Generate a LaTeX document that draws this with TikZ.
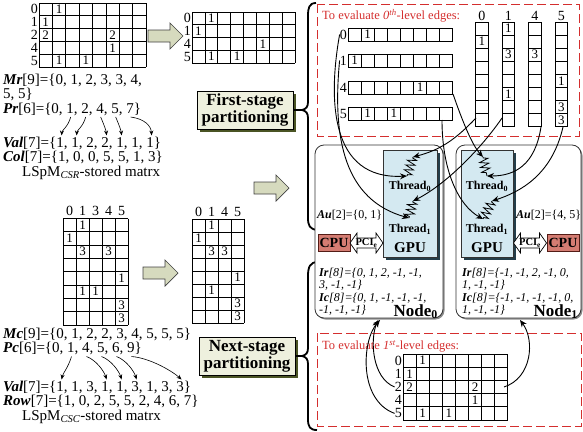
\documentclass[tikz,border=0pt]{standalone}
\usepackage{fontspec}
\setmainfont{Liberation Serif}
\usetikzlibrary{arrows.meta, decorations.pathmorphing, shadows}

\definecolor{ArrowFill}{RGB}{214,218,190}
\definecolor{StageFill}{RGB}{238,240,222}
\definecolor{StageShade}{RGB}{74,84,36}
\definecolor{GpuFill}{RGB}{212,233,241}
\definecolor{GpuShade}{RGB}{36,62,74}
\definecolor{CpuFill}{RGB}{212,124,114}
\definecolor{CpuLine}{RGB}{84,28,22}
\definecolor{EvalRed}{RGB}{212,46,46}

% x0, y0, columns, rows, cell width, cell height
\newcommand*{\cellgrid}[6]{%
  \foreach \i in {0,...,#3} \draw[gridline] (#1+\i*#5,#2) -- (#1+\i*#5,#2+#4*#6);
  \foreach \j in {0,...,#4} \draw[gridline] (#1,#2+\j*#6) -- (#1+#3*#5,#2+\j*#6);
}
\newcommand*{\fatarrow}[1]{%
  \draw[fatarr] (#1) ++(0,-6) -- ++(22,0) -- ++(0,-7) -- ++(13,13) -- ++(-13,13) -- ++(0,-7) -- ++(-22,0) -- cycle;
}
\newcommand*{\pciarrow}[1]{%
  \draw[pciarr] (#1) ++(-16.5,0) -- ++(7,-10) -- ++(0,5) -- ++(19,0) -- ++(0,-5) -- ++(7,10) -- ++(-7,10) -- ++(0,-5) -- ++(-19,0) -- ++(0,5) -- cycle;
}

\begin{document}
\begin{tikzpicture}[x=1pt, y=-1pt,
  gridline/.style={line width=0.7pt},
  cellnum/.style={inner sep=0pt, font=\fontsize{13}{13}\selectfont},
  rowlab/.style={inner sep=0pt, anchor=east, font=\fontsize{14}{14}\selectfont},
  collab/.style={inner sep=0pt, font=\fontsize{14}{14}\selectfont},
  arrtxt/.style={inner sep=0pt, anchor=base west, font=\fontsize{15}{17}\selectfont},
  fatarr/.style={draw=black!75, fill=ArrowFill, line width=0.7pt},
  stagebox/.style={draw, line width=0.7pt, fill=StageFill, align=center, inner sep=2pt,
    minimum width=96, minimum height=38, font=\bfseries\fontsize{17}{17}\selectfont,
    drop shadow={shadow xshift=3pt, shadow yshift=-3pt, fill=StageShade, opacity=1}},
  evalbox/.style={draw=EvalRed, line width=0.8pt, dash pattern=on 9pt off 4pt},
  evaltxt/.style={inner sep=0pt, anchor=base west, text=EvalRed, font=\fontsize{12.5}{13}\selectfont},
  hostbox/.style={draw=black!80, line width=0.8pt, rounded corners=9pt, fill=white,
    drop shadow={shadow xshift=1.5pt, shadow yshift=-1.5pt, fill=black!45, opacity=1}},
  gpubox/.style={draw=black!80, line width=0.7pt, fill=GpuFill,
    drop shadow={shadow xshift=3pt, shadow yshift=-3pt, fill=GpuShade, opacity=1}},
  cpubox/.style={draw=CpuLine, line width=0.8pt, fill=CpuFill, inner sep=1pt,
    minimum width=32, minimum height=17, font=\bfseries\fontsize{14}{14}\selectfont},
  pciarr/.style={draw, fill=white, line width=0.7pt},
  pcitxt/.style={inner sep=0pt, font=\bfseries\fontsize{10.5}{10.5}\selectfont},
  thrtxt/.style={inner sep=0pt, font=\bfseries\fontsize{12}{12}\selectfont},
  gputxt/.style={inner sep=0pt, font=\bfseries\fontsize{15}{15}\selectfont},
  nodetxt/.style={inner sep=0pt, anchor=base east, font=\bfseries\fontsize{17}{17}\selectfont},
  autxt/.style={inner sep=0pt, anchor=base west, font=\fontsize{12}{12}\selectfont},
  irtxt/.style={inner sep=0pt, anchor=base west, font=\itshape\fontsize{12}{12}\selectfont},
  spring/.style={line width=0.8pt, decorate,
    decoration={zigzag, segment length=5pt, amplitude=4.5pt, pre length=1pt, post length=1pt}},
  link/.style={line width=0.9pt, -{Stealth[length=7pt, width=6pt]}},
  plink/.style={line width=0.6pt, -{Stealth[length=5pt, width=4pt]}},
  curly/.style={line width=1.8pt}
]
\useasboundingbox (0,0) rectangle (583,431);

% ---- CSR matrix and its first-stage part
\cellgrid{39}{3}{8}{5}{13.4}{12.8}
\foreach \r/\lab in {0/0,1/1,2/2,3/4,4/5}
  \node[rowlab] (csrrow-\r) at (38,9.4+12.8*\r) {\lab};
\foreach \r/\c/\v in {0/1/1,1/0/1,2/0/2,2/5/2,3/5/1,4/1/1,4/3/1}
  \node[cellnum] (csr-\r-\c) at (45.7+13.4*\c,9.4+12.8*\r) {\v};
\fatarrow{148,36}
\cellgrid{192}{12}{8}{4}{12.9}{12.75}
\foreach \r/\lab in {0/0,1/1,2/4,3/5}
  \node[rowlab] (subrow-\r) at (191,18.4+12.75*\r) {\lab};
\foreach \r/\c/\v in {0/1/1,1/0/1,2/5/1,3/1/1,3/3/1}
  \node[cellnum] (sub-\r-\c) at (198.45+12.9*\c,18.4+12.75*\r) {\v};

\node[arrtxt] (mr) at (3,84) {\textbf{\textit{Mr}}[9]=\{0, 1, 2, 3, 3, 4,};
\node[arrtxt] (mrb) at (3,98.5) {5, 5\}};
\node[arrtxt] (pr) at (3,113) {\textbf{\textit{Pr}}[6]=\{0, 1, 2, 4, 5, 7\}};
\node[arrtxt] (valr) at (3,147) {\textbf{\textit{Val}}[7]=\{1, 1, 2, 2, 1, 1, 1\}};
\node[arrtxt] (colr) at (3,161.5) {\textbf{\textit{Col}}[7]=\{1, 0, 0, 5, 5, 1, 3\}};
\node[arrtxt] (csrname) at (22,176) {LSpM\textsubscript{\textit{CSR}}-stored matrx};
\foreach \n/\x in {1/70.7,2/85.7,4/100.7,5/115.7,7/130.7} \coordinate (pr\n) at (\x,117);
\foreach \n/\x in {0/61.6,1/76.6,3/106.6,4/121.6,6/151.6} \coordinate (vr\n) at (\x,135.5);
\draw[plink] (pr1) .. controls (68,127) and (62,130) .. (vr0);
\draw[plink] (pr2) .. controls (83,127) and (77,130) .. (vr1);
\draw[plink] (pr4) .. controls (104,125) and (106,130) .. (vr3);
\draw[plink] (pr5) .. controls (119,125) and (121,130) .. (vr4);
\draw[plink] (pr7) .. controls (145,119) and (151,126) .. (vr6);

\node[stagebox] (first) at (245,110) {First-stage\\partitioning};
\fatarrow{254,188}

% ---- CSC matrix and its next-stage part
\cellgrid{63}{218.5}{5}{8}{13}{13.3}
\foreach \c/\lab in {0/0,1/1,2/3,3/4,4/5}
  \node[collab] (csccol-\c) at (69.5+13*\c,211) {\lab};
\foreach \r/\c/\v in {0/1/1,1/0/1,2/1/3,2/3/3,4/4/1,5/1/1,5/2/1,6/4/3,7/4/3}
  \node[cellnum] (csc-\r-\c) at (69.5+13*\c,225.15+13.3*\r) {\v};
\fatarrow{143,273}
\cellgrid{192}{219}{4}{8}{13}{13}
\foreach \c/\lab in {0/0,1/1,2/4,3/5}
  \node[collab] (subcol-\c) at (198.5+13*\c,212) {\lab};
\foreach \r/\c/\v in {0/1/1,1/0/1,2/1/3,2/2/3,4/3/1,5/1/1,6/3/3,7/3/3}
  \node[cellnum] (subc-\r-\c) at (198.5+13*\c,225.5+13*\r) {\v};

\node[arrtxt] (mc) at (3,338) {\textbf{\textit{Mc}}[9]=\{0, 1, 2, 2, 3, 4, 5, 5, 5\}};
\node[arrtxt] (pc) at (3,352.5) {\textbf{\textit{Pc}}[6]=\{0, 1, 4, 5, 6, 9\}};
\node[arrtxt] (valc) at (3,391) {\textbf{\textit{Val}}[7]=\{1, 1, 3, 1, 1, 3, 1, 3, 3\}};
\node[arrtxt] (rowc) at (3,405.5) {\textbf{\textit{Row}}[7]=\{1, 0, 2, 5, 5, 2, 4, 6, 7\}};
\node[arrtxt] (cscname) at (22,420) {LSpM\textsubscript{\textit{CSC}}-stored matrx};
\foreach \n/\x in {1/71.5,4/86.5,5/101.5,6/116.5,9/131.5} \coordinate (pc\n) at (\x,356.5);
\foreach \n/\x in {0/61.6,3/106.6,4/121.6,5/136.6,8/181.6} \coordinate (vc\n) at (\x,379.5);
\draw[plink] (pc1) .. controls (68,368) and (63,373) .. (vc0);
\draw[plink] (pc4) .. controls (96,360) and (104,371) .. (vc3);
\draw[plink] (pc5) .. controls (111,360) and (119,371) .. (vc4);
\draw[plink] (pc6) .. controls (126,360) and (134,371) .. (vc5);
\draw[plink] (pc9) .. controls (150,358) and (172,371) .. (vc8);

\node[stagebox] (next) at (247,356) {Next-stage\\partitioning};

% ---- braces
\coordinate (firsttip) at (302,110);
\coordinate (nexttip) at (302,356);
\draw[curly] (316,3) .. controls (309,3) and (308,8) .. (308,16) -- (308,102)
  .. controls (308,107) and (306,109) .. (firsttip) .. controls (306,111) and (308,113) .. (308,118)
  -- (308,218) .. controls (308,226) and (310,229) .. (317,230);
\draw[curly] (318,262) .. controls (310,262) and (308,267) .. (308,276) -- (308,348)
  .. controls (308,353) and (306,355) .. (nexttip) .. controls (306,357) and (308,359) .. (308,364)
  -- (308,419) .. controls (308,427) and (310,430) .. (317,430);
\draw[curly] (first.east) -- (firsttip);
\draw[curly] (next.east) -- (nexttip);

% ---- 0th-level edges
\draw[evalbox] (317,4) rectangle (579,136);
\node[evaltxt] (eval0) at (322,19.5) {To evaluate \textit{0\textsuperscript{th}}-level edges:};
\foreach \k/\y/\lab in {0/28/0,1/54/1,2/81/4,3/107/5} {
  \cellgrid{348}{\y}{8}{1}{13.1}{13}
  \node[rowlab] (trow\k) at (347,\y+6.5) {\lab};
}
\foreach \k/\y/\c/\v in {0/28/1/1,1/54/0/1,2/81/5/1,3/107/1/1,3/107/3/1}
  \node[cellnum] (tr-\k-\c) at (354.55+13.1*\c,\y+6.5) {\v};
\foreach \k/\lab in {0/0,1/1,2/4,3/5} {
  \cellgrid{475.5+26.5*\k}{22}{1}{8}{12.7}{13.1}
  \node[collab] (tcol\k) at (481.85+26.5*\k,16) {\lab};
}
\foreach \k/\r/\v in {0/1/1,1/0/1,1/2/3,1/5/1,2/2/3,3/4/1,3/6/3,3/7/3}
  \node[cellnum] (tc-\k-\r) at (481.85+26.5*\k,28.55+13.1*\r) {\v};

% ---- compute nodes
\node[hostbox, minimum width=128, minimum height=173] (host0) at (379,231.5) {};
\node[hostbox, minimum width=125, minimum height=173] (host1) at (518.5,231.5) {};
\node[gpubox, minimum width=54, minimum height=107] (gpu0) at (410,203.5) {};
\node[gpubox, minimum width=52, minimum height=107] (gpu1) at (487,203.5) {};
\node[thrtxt] (thr00) at (410,186) {Thread\textsubscript{0}};
\node[thrtxt] (thr01) at (410,229) {Thread\textsubscript{1}};
\node[thrtxt] (thr10) at (487,186) {Thread\textsubscript{0}};
\node[thrtxt] (thr11) at (487,229) {Thread\textsubscript{1}};
\node[gputxt] (gpulab0) at (410,248) {GPU};
\node[gputxt] (gpulab1) at (487,248) {GPU};
\coordinate (s00t) at (413,157); \coordinate (s00b) at (407,176);
\coordinate (s01t) at (413,201); \coordinate (s01b) at (409,218);
\coordinate (s10t) at (483,157); \coordinate (s10b) at (487,176);
\coordinate (s11t) at (492,201); \coordinate (s11b) at (483,219);
\draw[spring] (s00t) -- (s00b);
\draw[spring] (s01t) -- (s01b);
\draw[spring] (s10t) -- (s10b);
\draw[spring] (s11t) -- (s11b);

\node[cpubox] (cpu0) at (334,243) {CPU};
\node[cpubox] (cpu1) at (563,243) {CPU};
\pciarrow{366.5,243}
\node[pcitxt] (pci0) at (366.5,243) {PCI\textsubscript{e}};
\pciarrow{530,243}
\node[pcitxt] (pci1) at (530,243) {PCI\textsubscript{e}};
\node[autxt] (au0) at (317,218) {\textbf{\textit{Au}}[2]=\{0, 1\}};
\node[autxt] (au1) at (516,218) {\textbf{\textit{Au}}[2]=\{4, 5\}};

\node[irtxt] (ir0a) at (319,276) {\textbf{Ir}[8]=\{0, 1, 2, -1, -1,};
\node[irtxt] (ir0b) at (319,288) {3, -1, -1\}};
\node[irtxt] (ic0a) at (319,301) {\textbf{Ic}[8]=\{0, 1, -1, -1, -1,};
\node[irtxt] (ic0b) at (319,313) {-1, -1, -1\}};
\node[nodetxt] (nodelab0) at (438,316) {Node\textsubscript{0}};
\node[irtxt] (ir1a) at (462,276) {\textbf{Ir}[8]=\{-1, -1, 2, -1, 0,};
\node[irtxt] (ir1b) at (462,288) {1, -1, -1\}};
\node[irtxt] (ic1a) at (462,301) {\textbf{Ic}[8]=\{-1, -1, -1, -1, 0,};
\node[irtxt] (ic1b) at (462,313) {1, -1, -1\}};
\node[nodetxt] (nodelab1) at (578,316) {Node\textsubscript{1}};

% ---- edges handed to the threads
\coordinate (c0foot) at (476,118);
\coordinate (c1foot) at (502,118);
\coordinate (c4foot) at (541,127);
\coordinate (c5foot) at (563,127);
\coordinate (r4end) at (453,94);
\coordinate (r5end) at (442,120);
\draw[link] (trow0.west) .. controls (328,100) and (330,180) .. (s00b);
\draw[link] (trow1.west) .. controls (332,140) and (345,200) .. (s01b);
\draw[link] (c0foot) .. controls (455,140) and (440,150) .. (s00t);
\draw[link] (c1foot) .. controls (480,150) and (445,185) .. (s01t);
\draw[link] (r4end) .. controls (462,120) and (472,145) .. (s10t);
\draw[link] (r5end) .. controls (442,170) and (458,205) .. (s11b);
\draw[link] (c4foot) .. controls (535,165) and (515,176) .. (s10b);
\draw[link] (c5foot) .. controls (552,175) and (520,192) .. (s11t);

% ---- 1st-level edges
\draw[evalbox] (317,333) rectangle (581,426);
\node[evaltxt] (eval1) at (322,349.5) {To evaluate \textit{1\textsuperscript{st}}-level edges:};
\cellgrid{403}{354}{8}{5}{13.1}{13.2}
\foreach \r/\lab in {0/0,1/1,2/2,3/4,4/5}
  \node[rowlab] (brow\r) at (402,360.6+13.2*\r) {\lab};
\foreach \r/\c/\v in {0/1/1,1/0/1,2/0/2,2/5/2,3/5/1,4/1/1,4/3/1}
  \node[cellnum] (bm-\r-\c) at (409.55+13.1*\c,360.6+13.2*\r) {\v};
\coordinate (host0in) at (378,320);
\coordinate (host0inb) at (380,320);
\coordinate (host1in) at (520,320);
\coordinate (r2end) at (504,387);
\draw[link] (brow2.west) .. controls (372,378) and (370,340) .. (host0in);
\draw[link] (brow4.west) .. controls (358,400) and (362,340) .. (host0inb);
\draw[link] (r2end) .. controls (532,378) and (535,340) .. (host1in);
\end{tikzpicture}
\end{document}
